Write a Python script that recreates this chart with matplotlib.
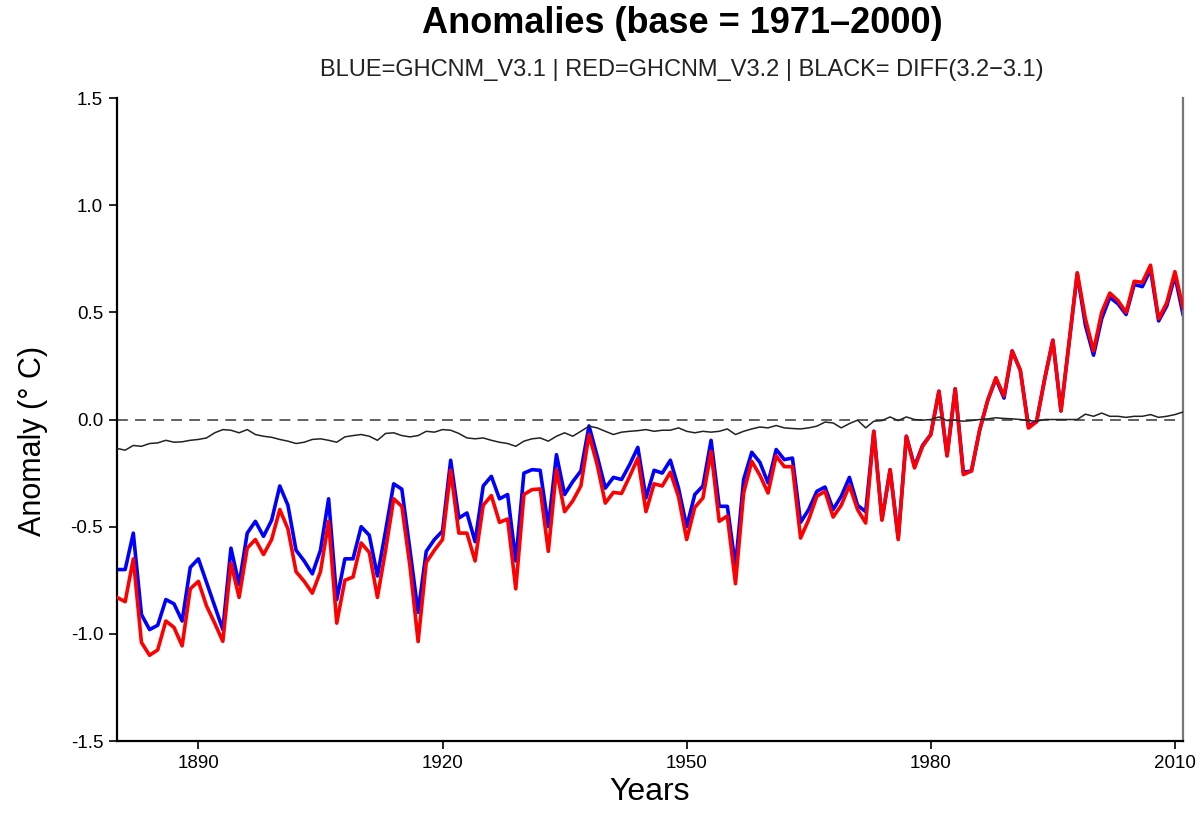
import numpy as np
import matplotlib
matplotlib.use('Agg')
import matplotlib.pyplot as plt

plt.rcParams['font.family'] = ['Liberation Sans', 'DejaVu Sans']

years = np.arange(1880, 2012)

# GHCNM v3.1 anomalies (deg C, base 1971-2000)
blue_v31 = [
    -0.70, -0.70, -0.53, -0.91, -0.98, -0.96, -0.84, -0.86, -0.94, -0.69,
    -0.65, -0.76, -0.87, -0.98, -0.60, -0.77, -0.53, -0.475, -0.545, -0.47,
    -0.31, -0.40, -0.61, -0.66, -0.72, -0.61, -0.37, -0.84, -0.65, -0.65,
    -0.50, -0.54, -0.73, -0.52, -0.30, -0.325, -0.61, -0.90, -0.615, -0.56,
    -0.52, -0.19, -0.46, -0.436, -0.57, -0.31, -0.265, -0.37, -0.35, -0.66,
    -0.25, -0.234, -0.237, -0.50, -0.164, -0.35, -0.29, -0.24, -0.03, -0.17,
    -0.32, -0.27, -0.28, -0.21, -0.13, -0.366, -0.237, -0.25, -0.19, -0.32,
    -0.50, -0.35, -0.31, -0.097, -0.405, -0.405, -0.685, -0.28, -0.153, -0.20,
    -0.296, -0.14, -0.187, -0.18, -0.48, -0.42, -0.335, -0.315, -0.42, -0.358,
    -0.27, -0.40, -0.43, -0.055, -0.467, -0.234, -0.553, -0.078, -0.218, -0.12,
    -0.07, 0.132, -0.168, 0.143, -0.246, -0.24, -0.05, 0.09, 0.19, 0.10,
    0.32, 0.23, -0.03, -0.01, 0.19, 0.37, 0.04, 0.36, 0.68, 0.44,
    0.30, 0.47, 0.57, 0.54, 0.49, 0.63, 0.62, 0.70, 0.46, 0.53,
    0.67, 0.49,
]

# GHCNM v3.2 anomalies
red_v32 = [
    -0.83, -0.85, -0.65, -1.04, -1.10, -1.075, -0.94, -0.97, -1.056, -0.79,
    -0.755, -0.87, -0.95, -1.035, -0.67, -0.83, -0.60, -0.56, -0.63, -0.56,
    -0.42, -0.51, -0.71, -0.755, -0.81, -0.71, -0.475, -0.95, -0.75, -0.735,
    -0.576, -0.62, -0.83, -0.61, -0.37, -0.405, -0.685, -1.036, -0.667, -0.61,
    -0.56, -0.237, -0.53, -0.53, -0.66, -0.40, -0.355, -0.48, -0.464, -0.79,
    -0.35, -0.327, -0.324, -0.615, -0.234, -0.43, -0.38, -0.31, -0.07, -0.21,
    -0.39, -0.34, -0.345, -0.265, -0.18, -0.43, -0.30, -0.31, -0.246, -0.36,
    -0.56, -0.41, -0.366, -0.148, -0.475, -0.45, -0.766, -0.343, -0.195, -0.26,
    -0.343, -0.17, -0.22, -0.22, -0.553, -0.467, -0.358, -0.335, -0.455, -0.40,
    -0.308, -0.42, -0.483, -0.055, -0.47, -0.234, -0.56, -0.078, -0.226, -0.125,
    -0.07, 0.132, -0.17, 0.143, -0.257, -0.24, -0.05, 0.09, 0.195, 0.11,
    0.32, 0.23, -0.04, -0.01, 0.19, 0.37, 0.04, 0.36, 0.685, 0.47,
    0.32, 0.50, 0.59, 0.555, 0.50, 0.645, 0.64, 0.72, 0.47, 0.545,
    0.69, 0.52,
]

# difference v3.2 - v3.1
black_diff = [
    -0.135, -0.143, -0.121, -0.125, -0.112, -0.109, -0.097, -0.106, -0.104, -0.097,
    -0.093, -0.086, -0.062, -0.047, -0.050, -0.062, -0.047, -0.070, -0.078, -0.083,
    -0.093, -0.101, -0.112, -0.106, -0.093, -0.090, -0.097, -0.106, -0.081, -0.075,
    -0.070, -0.078, -0.097, -0.065, -0.062, -0.075, -0.081, -0.075, -0.055, -0.059,
    -0.047, -0.050, -0.065, -0.086, -0.090, -0.086, -0.097, -0.106, -0.112, -0.125,
    -0.101, -0.090, -0.086, -0.101, -0.078, -0.062, -0.078, -0.055, -0.031, -0.039,
    -0.055, -0.070, -0.059, -0.055, -0.052, -0.047, -0.055, -0.050, -0.050, -0.039,
    -0.055, -0.062, -0.055, -0.059, -0.055, -0.044, -0.070, -0.055, -0.044, -0.035,
    -0.039, -0.028, -0.039, -0.042, -0.044, -0.039, -0.031, -0.012, -0.016, -0.039,
    -0.019, -0.003, -0.039, -0.008, -0.005, 0.012, -0.005, 0.012, 0.000, -0.003,
    0.000, 0.012, -0.005, -0.003, -0.008, -0.005, 0.000, 0.003, 0.008, 0.005,
    0.003, 0.000, -0.005, -0.008, 0.000, 0.000, 0.000, 0.000, 0.000, 0.025,
    0.015, 0.030, 0.015, 0.015, 0.010, 0.015, 0.015, 0.023, 0.010, 0.015,
    0.023, 0.035,
]

xticks = [1890, 1920, 1950, 1980, 2010]
yticks = [-1.5, -1.0, -0.5, 0.0, 0.5, 1.0, 1.5]

fig = plt.figure(figsize=(12.04, 8.25), dpi=100)
ax = fig.add_axes([0.0972, 0.1018, 0.8854, 0.7794])

ax.axhline(0, color='#555555', lw=1.3, ls=(0, (6, 4)), zorder=1)
ax.plot(years, blue_v31, color='#0000ff', lw=2.6, zorder=2)
ax.plot(years, red_v32, color='#ff0000', lw=2.6, zorder=3)
ax.plot(years, black_diff, color='#222222', lw=1.1, zorder=4)

ax.set_xlim(1880, 2011)
ax.set_ylim(-1.5, 1.5)
ax.set_xticks(xticks)
ax.set_yticks(yticks)
ax.set_yticklabels(['%.1f' % v for v in yticks])
ax.tick_params(direction='out', length=6, width=1.2, labelsize=13.5, pad=4)

ax.spines['top'].set_visible(False)
ax.spines['left'].set_linewidth(1.6)
ax.spines['bottom'].set_linewidth(1.6)
ax.spines['right'].set_color('#777777')
ax.spines['right'].set_linewidth(1.6)

ax.set_xlabel('Years', fontsize=23, labelpad=4)
ax.set_ylabel('Anomaly (° C)', fontsize=22)
ax.yaxis.set_label_coords(-0.065, 0.466)

fig.text(0.567, 0.972, 'Anomalies (base = 1971\u20132000)', ha='center', va='center',
         fontsize=26, fontweight='bold')
fig.text(0.566, 0.915, 'BLUE=GHCNM_V3.1 | RED=GHCNM_V3.2 | BLACK= DIFF(3.2\u22123.1)',
         ha='center', va='center', fontsize=17, color='#222222')

fig.savefig('out.png', dpi=100)
